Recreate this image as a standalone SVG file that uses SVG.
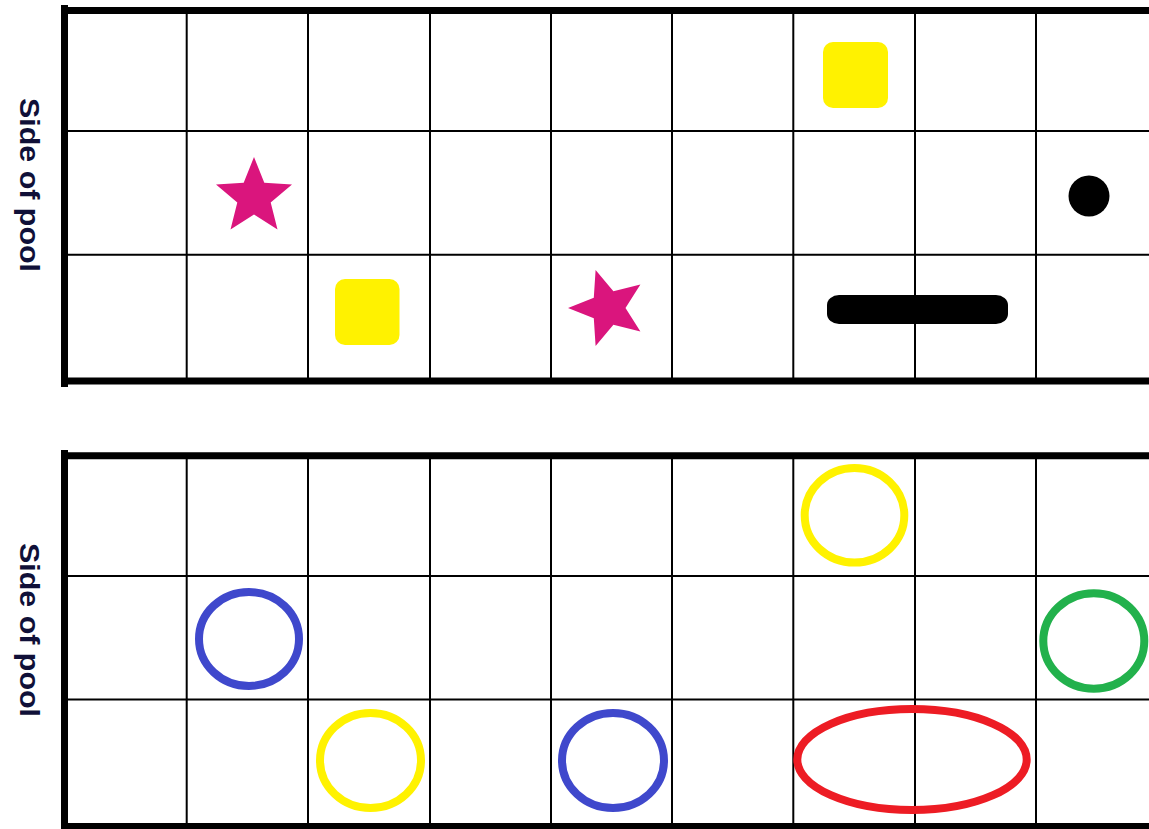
<svg xmlns="http://www.w3.org/2000/svg" width="1149" height="829" viewBox="0 0 1149 829">
<defs>
<style>
.thin{stroke:#000;stroke-width:2;fill:none}
.thick{stroke:#000;stroke-width:7;fill:none}
.lbl{font-family:"Liberation Sans",Arial,sans-serif;font-weight:bold;font-size:28px;fill:#101038}
.ring{fill:none;stroke-width:8}
.ysq{fill:#FFF200}
.star{fill:#DA157D}
</style>
<polygon id="starShape" points="0,-40 10.3,-14.2 38,-12.4 16.7,5.4 23.5,32.4 0,17.5 -23.5,32.4 -16.7,5.4 -38,-12.4 -10.3,-14.2"/>
</defs>
<rect width="1149" height="829" fill="#fff"/>

<g id="top-grid">
<path class="thin" d="M186.7 10V381 M308 10V381 M430 10V381 M551 10V381 M672 10V381 M793.3 10V381 M915 10V381 M1036 10V381 M64 131H1149 M64 254.7H1149"/>
<path class="thick" d="M64.5 5V387 M61 10.5H1149 M61 381H1149"/>
</g>

<g id="bottom-grid">
<path class="thin" d="M186.7 455V827 M308 455V827 M430 455V827 M551 455V827 M672 455V827 M793.3 455V827 M915 455V827 M1036 455V827 M64 576H1149 M64 699.5H1149"/>
<path class="thick" d="M64.5 450V829 M61 455.8H1149 M61 826.5H1149"/>
</g>

<g id="label-top"><text class="lbl" transform="translate(20,185) rotate(90)" text-anchor="middle" textLength="174" lengthAdjust="spacingAndGlyphs">Side of pool</text></g>
<g id="label-bottom"><text class="lbl" transform="translate(20,630) rotate(90)" text-anchor="middle" textLength="174" lengthAdjust="spacingAndGlyphs">Side of pool</text></g>

<g id="star-1"><use href="#starShape" class="star" transform="translate(254,197)"/></g>
<g id="star-2"><use href="#starShape" class="star" transform="translate(608,308) rotate(-90)"/></g>
<g id="yellow-square-1"><rect class="ysq" x="823" y="42" width="65" height="66" rx="10"/></g>
<g id="yellow-square-2"><rect class="ysq" x="335" y="279" width="64.5" height="66" rx="10"/></g>
<g id="black-dot"><circle cx="1089" cy="196" r="20.5" fill="#000"/></g>
<g id="black-bar"><rect x="827" y="295" width="181" height="29" rx="12" ry="10" fill="#000"/></g>

<g id="yellow-ring-1"><ellipse class="ring" cx="854.5" cy="515.3" rx="49.8" ry="47.3" stroke="#FFF200"/></g>
<g id="yellow-ring-2"><ellipse class="ring" cx="370.5" cy="760.5" rx="50.5" ry="47.5" stroke="#FFF200"/></g>
<g id="blue-ring-1"><ellipse class="ring" cx="249" cy="639" rx="50" ry="47" stroke="#3F48CC"/></g>
<g id="blue-ring-2"><ellipse class="ring" cx="613" cy="760.5" rx="51" ry="47.5" stroke="#3F48CC"/></g>
<g id="green-ring"><ellipse class="ring" cx="1093.8" cy="641" rx="50.5" ry="47.7" stroke="#22B14C"/></g>
<g id="red-ring"><ellipse class="ring" cx="912" cy="759.5" rx="114.7" ry="50.5" stroke="#ED1C24"/></g>
</svg>
